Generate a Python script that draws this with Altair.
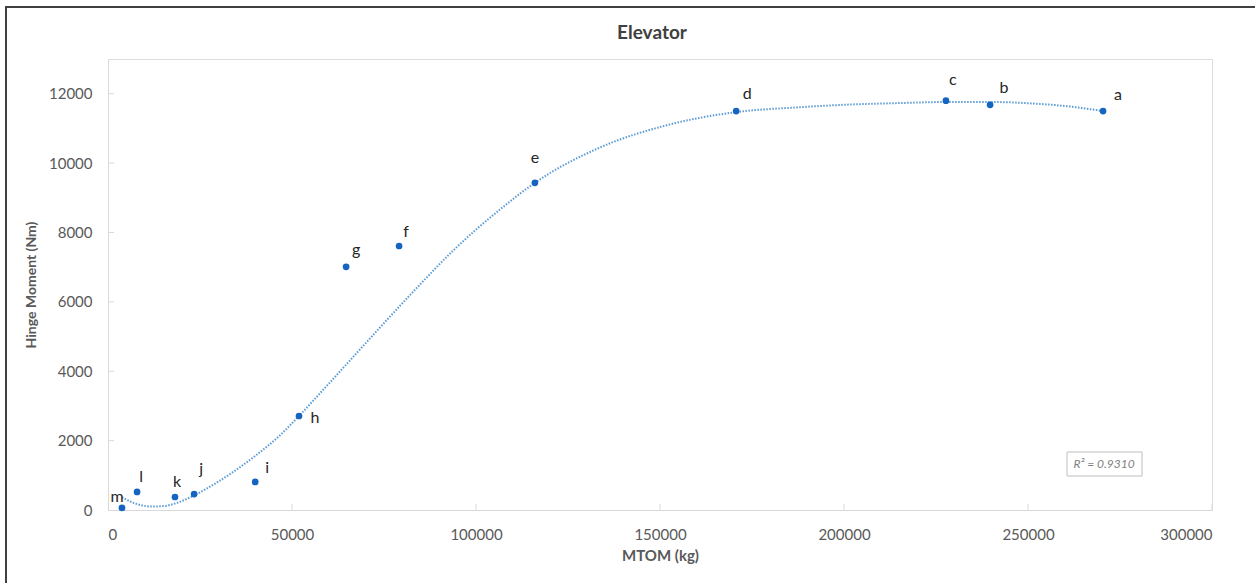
import altair as alt
import pandas as pd

# Data
labels = ["a", "b", "c", "d", "e", "f", "g", "h", "i", "j", "k", "l", "m"]
mtom = [270400, 239700, 227700, 170700, 116000, 79100, 64700, 51900, 40000, 23400, 18200, 7900, 3800]
hinge = [11500, 11680, 11800, 11500, 9430, 7610, 7010, 2710, 810, 460, 375, 520, 60]

# Trendline (Excel polynomial fit, R² = 0.9310)
trend_x = [3800, 8000, 12000, 15000, 19000, 23400, 30000, 40000, 46700, 51900, 58000, 64800,
           73900, 83000, 94700, 106500, 116000, 133700, 151800, 170800, 188000, 200000,
           215000, 228000, 240000, 251000, 260500, 270400]
trend_y = [366, 165, 100, 112, 215, 420, 820, 1560, 2150, 2710, 3410, 4200,
           5260, 6300, 7570, 8660, 9430, 10450, 11090, 11470, 11610, 11680,
           11730, 11760, 11760, 11720, 11640, 11500]

# Label placement (pixel offsets from each point) - style only
label_dx = [15, 14, 7, 11, 0, 7, 10, 16, 12, 7, 2, 4, -5]
label_dy = [-16, -17, -21, -17, -25, -14, -17, 2, -14, -25, -15, -15, -11]

x_ticks = [0, 50000, 100000, 150000, 200000, 250000, 300000]
y_ticks = [0, 2000, 4000, 6000, 8000, 10000, 12000]

df = pd.DataFrame({"MTOM": mtom, "Hinge": hinge, "label": labels})
tdf = pd.DataFrame({"MTOM": trend_x, "Hinge": trend_y})

FONT = "Lato"
W, H = 1104, 451

xs = alt.Scale(domain=[0, 300000], nice=False)
ys = alt.Scale(domain=[0, 13000], nice=False)

x_axis = alt.Axis(values=x_ticks, title="MTOM (kg)", grid=False, labelFontSize=15,
                  labelColor="#595959", titleColor="#595959", titleFontSize=15,
                  titleFontWeight="bold", labelFont=FONT, titleFont=FONT,
                  domainColor="#d9d9d9", ticks=False,
                  labelPadding=17, titlePadding=6, format="d")
y_axis = alt.Axis(values=y_ticks, title="Hinge Moment (Nm)", grid=False, labelFontSize=15,
                  labelColor="#595959", titleColor="#595959", titleFontSize=14,
                  titleFontWeight="bold", labelFont=FONT, titleFont=FONT,
                  domainColor="#d9d9d9", ticks=False,
                  labelPadding=16, titlePadding=10, format="d")

trend = alt.Chart(tdf).mark_line(
    color="#5b9bd5", strokeWidth=2, strokeDash=[1.5, 1.5], interpolate="monotone"
).encode(x=alt.X("MTOM:Q", scale=xs, axis=x_axis), y=alt.Y("Hinge:Q", scale=ys, axis=y_axis))

# Inward tick marks
xtick_marks = alt.Chart(pd.DataFrame({"v": x_ticks[1:]})).mark_rule(color="#d9d9d9", strokeWidth=1).encode(
    x=alt.X("v:Q", scale=xs), y=alt.value(H - 6), y2=alt.value(H))
ytick_marks = alt.Chart(pd.DataFrame({"v": y_ticks[1:]})).mark_rule(color="#d9d9d9", strokeWidth=1).encode(
    y=alt.Y("v:Q", scale=ys), x=alt.value(0), x2=alt.value(6))

base = alt.Chart(df)
points = base.mark_circle(size=45, color="#1565c0", opacity=1).encode(
    x=alt.X("MTOM:Q", scale=xs), y=alt.Y("Hinge:Q", scale=ys))

text_layers = []
for lab, dx, dy in zip(labels, label_dx, label_dy):
    text_layers.append(
        base.transform_filter(alt.datum.label == lab).mark_text(
            dx=dx, dy=dy, font=FONT, fontSize=16, color="#262626", align="center", baseline="middle"
        ).encode(x=alt.X("MTOM:Q", scale=xs), y=alt.Y("Hinge:Q", scale=ys), text="label:N")
    )

# R^2 annotation box
r2_box = alt.Chart(pd.DataFrame({"k": [0]})).mark_rect(
    fill="white", stroke="#bfbfbf", strokeWidth=1
).encode(x=alt.value(959), x2=alt.value(1034), y=alt.value(393), y2=alt.value(417))
r2_text = alt.Chart(pd.DataFrame({"t": ["R² = 0.9310"]})).mark_text(
    font=FONT, fontSize=12, fontStyle="italic", color="#7f7f7f", align="center", baseline="middle"
).encode(x=alt.value(996), y=alt.value(405), text="t:N")

# Chart title
title = alt.Chart(pd.DataFrame({"t": ["Elevator"]})).mark_text(
    font=FONT, fontSize=19, fontWeight="bold", color="#404040", align="center", baseline="middle"
).encode(x=alt.value(544), y=alt.value(-26), text="t:N")

# Outer frame lines (top and left)
frame_top = alt.Chart(pd.DataFrame({"k": [0]})).mark_rule(color="#404040", strokeWidth=2).encode(
    x=alt.value(-103), x2=alt.value(1150), y=alt.value(-52))
frame_left = alt.Chart(pd.DataFrame({"k": [0]})).mark_rule(color="#404040", strokeWidth=2).encode(
    x=alt.value(-102), y=alt.value(-53), y2=alt.value(530))

chart = alt.layer(trend, xtick_marks, ytick_marks, points, *text_layers, r2_box, r2_text, title,
                  frame_top, frame_left).properties(
    width=W, height=H,
    autosize=alt.AutoSizeParams(type="none"),
    padding={"left": 108, "top": 59, "right": 43, "bottom": 73},
).configure_view(stroke=None).configure(background="white")

chart.save("out.html", embed_options={"renderer": "svg", "actions": False})
